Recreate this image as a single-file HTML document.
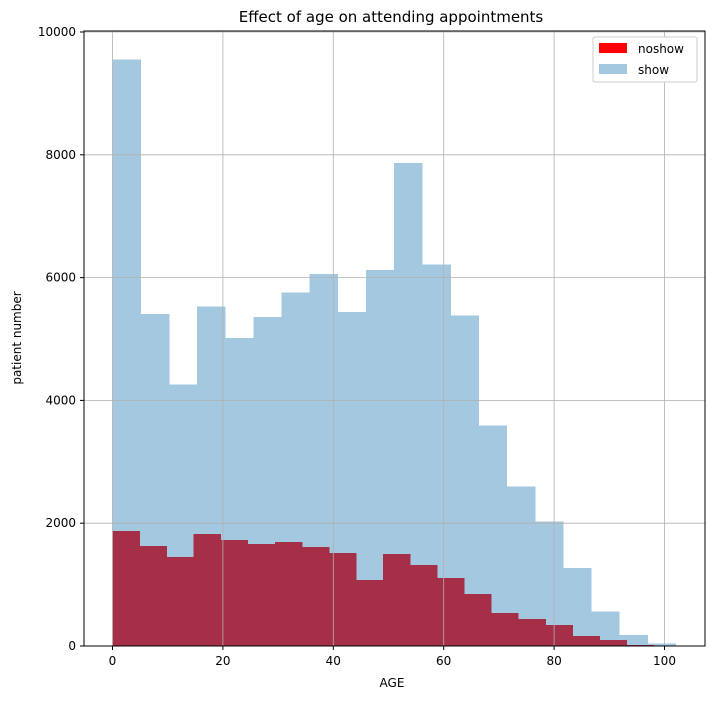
<!DOCTYPE html>
<html><head><meta charset="utf-8"><style>
body{margin:0;background:#fff;font-family:"Liberation Sans","DejaVu Sans",sans-serif}
svg text{font-family:"DejaVu Sans","Liberation Sans",sans-serif;fill:#000}
</style></head><body>
<svg id="chart" width="713" height="699" xmlns="http://www.w3.org/2000/svg">
<rect width="713" height="699" fill="#fff"/>
<text x="391" y="22" text-anchor="middle" font-size="15">Effect of age on attending appointments</text>
<g id="bars" shape-rendering="crispEdges"></g>
<g id="grid"></g>
<rect x="84" y="31" width="621" height="615" fill="none" stroke="#000" stroke-width="1"/>
<g id="ticks"></g>
<text x="392" y="687" text-anchor="middle" font-size="12">AGE</text>
<text transform="translate(21,338) rotate(-90)" text-anchor="middle" font-size="12">patient number</text>
<g>
<rect x="593" y="37" width="104" height="45" fill="#fff" stroke="#ccc" rx="2"/>
<rect x="599" y="43" width="28" height="10" fill="#ff0000"/>
<text x="638" y="53" font-size="12">noshow</text>
<rect x="599" y="64" width="28" height="10" fill="#a5c8e1"/>
<text x="638" y="74" font-size="12">show</text>
</g>
</svg>
<script>
const showValues=[9550,5410,4260,5530,5020,5360,5760,6060,5440,6120,7870,6210,5380,3590,2600,2030,1270,560,180,40];
const noshowValues=[1874,1630,1450,1825,1728,1663,1695,1614,1516,1076,1500,1320,1108,848,538,440,342,163,98,16];
const showRange=[0,102];
const noshowRange=[0,98];
const xTicks=[0,20,40,60,80,100];
const yTicks=[0,2000,4000,6000,8000,10000];
const NS='http://www.w3.org/2000/svg';
const xs=v=>112.5+v*5.52;
const ys=v=>646-v*0.06140;
function mk(t,a,p){const e=document.createElementNS(NS,t);for(const k in a)e.setAttribute(k,a[k]);p.appendChild(e);return e;}
const bars=document.getElementById('bars');
function drawHist(vals,range,color,name){
  const w=(range[1]-range[0])/vals.length;
  vals.forEach((v,i)=>{
    const x0=xs(range[0]+i*w),x1=xs(range[0]+(i+1)*w);
    const r=mk('rect',{x:x0,y:ys(v),width:x1-x0+0.5,height:ys(0)-ys(v),fill:color},bars);
    
    
  });
}
drawHist(showValues,showRange,'#a5c8e1','show');
drawHist(noshowValues,noshowRange,'#a52f47','noshow');
const grid=document.getElementById('grid'),ticks=document.getElementById('ticks');
xTicks.forEach(t=>{
  const l=mk('line',{x1:xs(t),x2:xs(t),y1:31,y2:646,stroke:'#b0b0b0','stroke-width':0.8},grid);
  
  
  mk('line',{x1:xs(t),x2:xs(t),y1:646,y2:650,stroke:'#000'},ticks);
  const tx=mk('text',{x:xs(t),y:665,'text-anchor':'middle','font-size':12},ticks);
  tx.textContent=t;
  
  
});
yTicks.forEach(t=>{
  const l=mk('line',{x1:84,x2:705,y1:ys(t),y2:ys(t),stroke:'#b0b0b0','stroke-width':0.8},grid);
  
  
  mk('line',{x1:80,x2:84,y1:ys(t),y2:ys(t),stroke:'#000'},ticks);
  const tx=mk('text',{x:76,y:ys(t)+4,'text-anchor':'end','font-size':12},ticks);
  tx.textContent=t;
  
  
});
</script>
</body></html>
